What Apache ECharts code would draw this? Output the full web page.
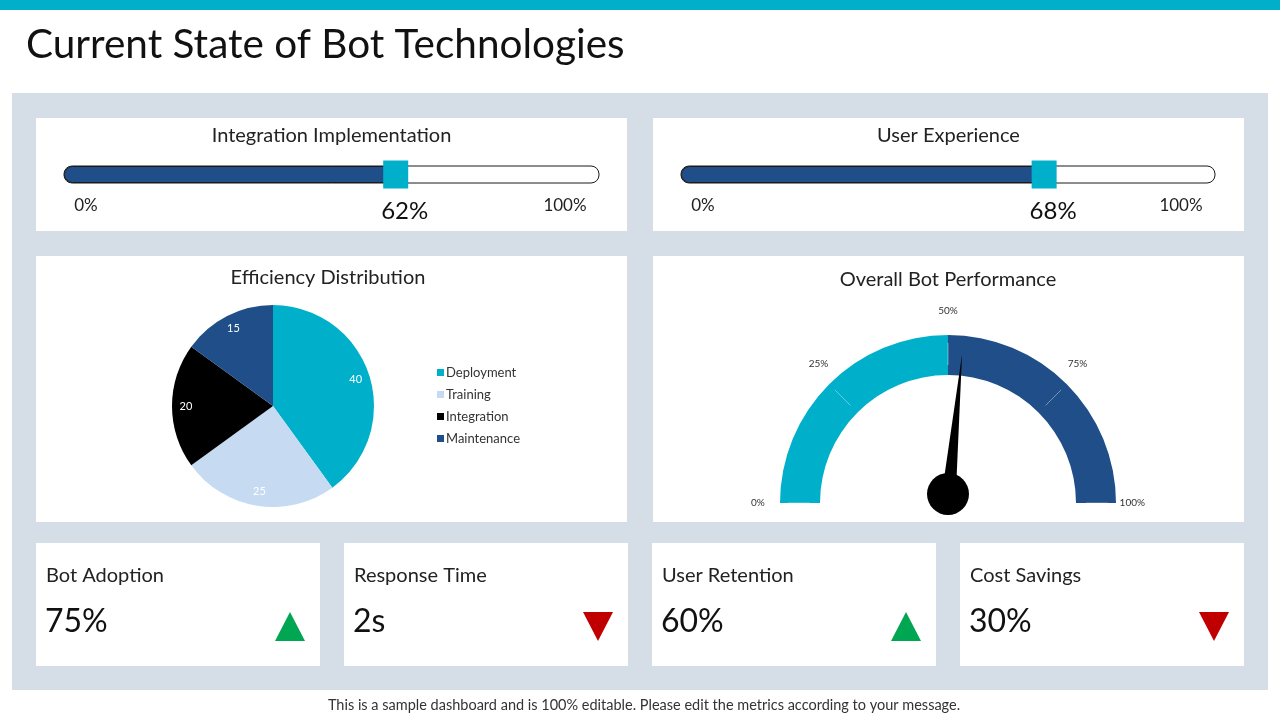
<!DOCTYPE html>
<html>
<head>
<meta charset="utf-8">
<script src="https://cdn.jsdelivr.net/npm/echarts@6/dist/echarts.min.js"></script>
<style>
  html, body { margin: 0; padding: 0; background: #fff; }
  #main { width: 1280px; height: 720px; }
</style>
</head>
<body>
<div id="main"></div>
<script>
const sliderNames = ['Integration Implementation', 'User Experience'];
const sliderValues = [62, 68];
const pieNames = ['Deployment', 'Training', 'Integration', 'Maintenance'];
const pieValues = [40, 25, 20, 15];
const pieColors = ['#00B0CA', '#C6DAF2', '#000000', '#1F4E89'];
const gaugeValue = 53;
const kpiNames = ['Bot Adoption', 'Response Time', 'User Retention', 'Cost Savings'];
const kpiValues = ['75%', '2s', '60%', '30%'];
const kpiTrends = ['up', 'down', 'up', 'down'];

const FONT = 'Lato, "Open Sans", sans-serif';
const CYAN = '#00B0CA';
const NAVY = '#1F4E89';

var chart = echarts.init(document.getElementById('main'));

// card boxes (x, y, w, h)
var cards = [
  [36, 118, 591, 113], [653, 118, 591, 113],
  [36, 256, 591, 266], [653, 256, 591, 266],
  [36, 543, 284, 123], [344, 543, 284, 123], [652, 543, 284, 123], [960, 543, 284, 123]
];
var sliderBoxes = [[64, 535], [681, 534]]; // left, width of track

var graphics = [
  { type: 'rect', shape: { x: 0, y: 0, width: 1280, height: 10 }, style: { fill: CYAN } },
  { type: 'rect', shape: { x: 12, y: 93, width: 1256, height: 597 }, style: { fill: '#D5DEE7' } },
  { type: 'text', x: 26, y: 45, style: { text: 'Current State of Bot Technologies', font: '40.5px ' + FONT, fill: '#111', textVerticalAlign: 'middle' } },
  { type: 'text', x: 644, y: 705, style: { text: 'This is a sample dashboard and is 100% editable. Please edit the metrics according to your message.', font: '14.5px ' + FONT, fill: '#333', textAlign: 'center', textVerticalAlign: 'middle' } }
];
cards.forEach(function (c) {
  graphics.push({ type: 'rect', shape: { x: c[0], y: c[1], width: c[2], height: c[3] }, style: { fill: '#fff' } });
});
// slider titles and end labels
sliderNames.forEach(function (name, i) {
  var c = cards[i], b = sliderBoxes[i];
  graphics.push({ type: 'text', x: c[0] + c[2] / 2, y: 136, style: { text: name, font: '20px ' + FONT, fill: '#222', textAlign: 'center', textVerticalAlign: 'middle' } });
  graphics.push({ type: 'text', x: b[0] + 22, y: 206, style: { text: '0%', font: '17px ' + FONT, fill: '#222', textAlign: 'center', textVerticalAlign: 'middle' } });
  graphics.push({ type: 'text', x: b[0] + b[1] - 34, y: 206, style: { text: '100%', font: '17px ' + FONT, fill: '#222', textAlign: 'center', textVerticalAlign: 'middle' } });
});
graphics.push({ type: 'text', x: 328, y: 278, style: { text: 'Efficiency Distribution', font: '20px ' + FONT, fill: '#222', textAlign: 'center', textVerticalAlign: 'middle' } });
graphics.push({ type: 'text', x: 948, y: 280, style: { text: 'Overall Bot Performance', font: '20px ' + FONT, fill: '#222', textAlign: 'center', textVerticalAlign: 'middle' } });
// KPI cards
kpiNames.forEach(function (name, i) {
  var c = cards[4 + i];
  graphics.push({ type: 'text', x: c[0] + 10, y: 576, style: { text: name, font: '20px ' + FONT, fill: '#222', textVerticalAlign: 'middle' } });
  graphics.push({ type: 'text', x: c[0] + 9, y: 622, style: { text: kpiValues[i], font: '32px ' + FONT, fill: '#111', textVerticalAlign: 'middle' } });
  var tx = c[0] + 254;
  var pts = kpiTrends[i] === 'up'
    ? [[tx - 15, 641], [tx + 15, 641], [tx, 612]]
    : [[tx - 15, 612], [tx + 15, 612], [tx, 641]];
  graphics.push({ type: 'polygon', shape: { points: pts }, style: { fill: kpiTrends[i] === 'up' ? '#00A651' : '#C00000' } });
});

var grids = [], xAxes = [], yAxes = [], series = [];
sliderValues.forEach(function (v, i) {
  var b = sliderBoxes[i];
  grids.push({ left: b[0], width: b[1], top: 166, height: 17 });
  xAxes.push({ gridIndex: i, type: 'value', min: 0, max: 100, show: false });
  yAxes.push({ gridIndex: i, type: 'category', data: [sliderNames[i]], show: false });
  series.push({
    type: 'bar', xAxisIndex: i, yAxisIndex: i, data: [v], barWidth: 17,
    itemStyle: { color: NAVY, borderColor: '#1a1a1a', borderWidth: 1, borderRadius: [8, 0, 0, 8] },
    showBackground: true,
    backgroundStyle: { color: '#fff', borderColor: '#1a1a1a', borderWidth: 1, borderRadius: 8 },
    silent: true
  });
  series.push({
    type: 'scatter', xAxisIndex: i, yAxisIndex: i, data: [[v, 0]], symbol: 'rect', symbolSize: [25, 28],
    itemStyle: { color: CYAN, opacity: 1 }, z: 5,
    label: { show: true, position: 'bottom', distance: 11, offset: [9, 0], fontFamily: FONT, fontSize: 24, color: '#111',
      formatter: function (p) { return p.value[0] + '%'; } }
  });
});

var pieData = pieNames.map(function (n, i) { return { name: n, value: pieValues[i], itemStyle: { color: pieColors[i] } }; });
series.push({
  type: 'pie', center: [273, 406], radius: [0, 101], startAngle: 90, data: pieData,
  label: { show: false }, labelLine: { show: false }, silent: true
});
// label ring placed at ~0.83 of the pie radius
series.push({
  type: 'pie', center: [273, 406], radius: [67, 101], startAngle: 90,
  data: pieNames.map(function (n, i) { return { name: n, value: pieValues[i], itemStyle: { color: 'rgba(0,0,0,0)' } }; }),
  label: { show: true, position: 'inside', color: '#fff', fontSize: 11, fontFamily: FONT, formatter: '{c}' },
  labelLine: { show: false }, silent: true, legendHoverLink: false, z: 3
});

series.push({
  type: 'gauge', center: [948, 503], radius: 168, startAngle: 180, endAngle: 0,
  min: 0, max: 100, splitNumber: 4,
  axisLine: { lineStyle: { width: 40, color: [[0.5, CYAN], [1, NAVY]] } },
  splitLine: { show: true, length: 22, distance: -32, lineStyle: { color: 'rgba(255,255,255,0.4)', width: 1 } },
  axisTick: { show: false },
  axisLabel: { distance: -19, color: '#333', fontSize: 10, fontFamily: FONT, formatter: '{value}%' },
  pointer: { icon: 'path://M50,0L100,1000L0,1000Z', length: 140, width: 14, offsetCenter: [0, -9], itemStyle: { color: '#000' } },
  anchor: { show: true, size: 42, showAbove: true, offsetCenter: [0, -9], itemStyle: { color: '#000' } },
  title: { show: false },
  detail: { show: false },
  data: [{ value: gaugeValue }]
});

var option = {
  animation: false,
  backgroundColor: '#fff',
  graphic: graphics,
  grid: grids,
  xAxis: xAxes,
  yAxis: yAxes,
  legend: {
    orient: 'vertical', left: 432, top: 361, itemWidth: 7, itemHeight: 7, itemGap: 9,
    icon: 'rect', data: pieNames,
    textStyle: { fontFamily: FONT, fontSize: 13, color: '#333', padding: [0, 0, 0, -3] }
  },
  series: series
};
chart.setOption(option);
</script>
</body>
</html>
